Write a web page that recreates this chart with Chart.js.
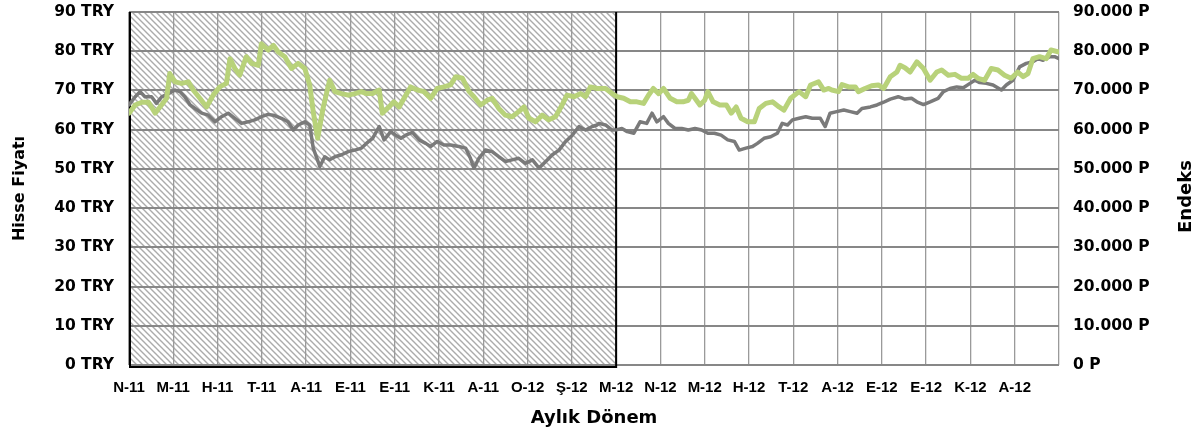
<!DOCTYPE html>
<html>
<head>
<meta charset="utf-8">
<script src="https://cdn.jsdelivr.net/npm/chart.js@4.4.1/dist/chart.umd.min.js"></script>
<style>
  html, body { margin: 0; padding: 0; background: #fff; }
  #kutu { width: 1204px; height: 437px; }
</style>
</head>
<body>
<div id="kutu"><canvas id="grafik"></canvas></div>
<script>
/* aylık etiketler (0..20), 21 = son çizgi */
var aylar = ['N-11', 'M-11', 'H-11', 'T-11', 'A-11', 'E-11', 'E-11', 'K-11', 'A-11', 'O-12', 'Ş-12',
             'M-12', 'N-12', 'M-12', 'H-12', 'T-12', 'A-12', 'E-12', 'E-12', 'K-12', 'A-12'];
var tarali = [0, 11]; // taralı dönem (ay aralığı)

/* Hisse fiyatı (TRY) - ay konumu ve değer */
var hisseX = [0, 0.14, 0.25, 0.36, 0.51, 0.62, 0.74, 0.89, 1.04, 1.15, 1.26, 1.38, 1.49, 1.64, 1.79, 1.94,
  2.09, 2.24, 2.39, 2.54, 2.69, 2.84, 2.99, 3.14, 3.29, 3.44, 3.59, 3.71, 3.82, 3.97, 4.08, 4.16, 4.31,
  4.42, 4.53, 4.65, 4.80, 4.95, 5.10, 5.25, 5.36,
  5.50, 5.65, 5.76, 5.91, 6.02, 6.14, 6.25, 6.40, 6.55, 6.70, 6.81, 6.96, 7.11, 7.26, 7.45, 7.60, 7.71,
  7.79, 7.90, 8.05, 8.20, 8.35, 8.50, 8.65, 8.80, 8.95, 9.11, 9.26, 9.41, 9.56, 9.71, 9.86, 10.01, 10.16,
  10.31, 10.46, 10.57,
  10.61, 10.76, 10.91, 11.02, 11.13, 11.25, 11.40, 11.54, 11.69, 11.81, 11.92, 12.07, 12.18, 12.33, 12.48,
  12.63, 12.78, 12.93, 13.07, 13.22, 13.37, 13.52, 13.67, 13.78, 13.93, 14.08, 14.19, 14.34, 14.49, 14.64,
  14.75, 14.87, 14.98, 15.13, 15.28, 15.43, 15.61, 15.72,
  15.83, 15.98, 16.14, 16.29, 16.44, 16.55, 16.74, 16.89, 17.04, 17.19, 17.37, 17.52, 17.67, 17.79, 17.94,
  18.09, 18.27, 18.39, 18.54, 18.69, 18.84, 18.99, 19.10, 19.21, 19.36, 19.51, 19.70, 19.81, 19.96, 20.11,
  20.26, 20.41, 20.52, 20.64, 20.79, 20.90, 21];
var hisseY = [66.3, 68.4, 69.7, 68.4, 68.4, 66.7, 68.4, 69.2, 70.1, 69.7, 68.4, 66.3, 65.4, 64.2, 63.7, 62.0,
  63.3, 64.2, 62.9, 61.6, 62.0, 62.5, 63.3, 63.9, 63.6, 62.9, 62.0, 59.9, 61.2, 62.0, 61.2, 55.3, 50.6,
  53.1, 52.3, 53.1, 53.6, 54.4, 54.8, 55.3, 56.5,
  57.8, 60.8, 57.4, 59.5, 58.6, 57.8, 58.6, 59.3, 57.4, 56.5, 55.7, 57.0, 56.1, 56.1, 55.7, 55.3, 52.7,
  50.2, 52.7, 54.8, 54.4, 53.1, 51.9, 52.3, 52.7, 51.4, 52.3, 50.2, 51.9, 53.6, 54.8, 57.0, 58.6, 60.8,
  59.9, 60.8, 61.2,
  61.6, 61.2, 59.9, 60.0, 60.3, 59.5, 59.1, 62.0, 61.6, 64.2, 62.0, 63.3, 61.6, 60.3, 60.3,
  59.9, 60.3, 59.9, 59.1, 59.1, 58.6, 57.4, 57.0, 54.8, 55.3, 55.7, 56.5, 57.8, 58.2, 59.1,
  61.6, 61.2, 62.5, 62.9, 63.3, 62.9, 62.9, 60.8,
  64.2, 64.6, 65.0, 64.6, 64.2, 65.4, 65.8, 66.3, 67.0, 67.8, 68.4, 67.8, 68.0, 67.1, 66.4,
  67.1, 68.0, 69.7, 70.5, 70.9, 70.7, 71.8, 72.6, 72.0, 71.8, 71.4, 70.1, 71.4, 72.6, 76.0,
  76.9, 77.3, 78.1, 77.7, 78.6, 78.6, 78.1];

/* Endeks (P) - ay konumu ve değer */
var endeksX = [0, 0.14, 0.29, 0.44, 0.59, 0.70, 0.85, 0.92, 1.04, 1.19, 1.34, 1.45, 1.60, 1.75, 1.90, 2.05,
  2.20, 2.28, 2.39, 2.50, 2.65, 2.77, 2.92, 2.99, 3.14, 3.26, 3.37, 3.52, 3.67, 3.82, 3.97, 4.08, 4.16,
  4.26, 4.38, 4.53, 4.65, 4.80, 4.95, 5.10, 5.25, 5.36,
  5.50, 5.65, 5.72, 5.87, 5.98, 6.10, 6.25, 6.36, 6.51, 6.66, 6.81, 6.96, 7.11, 7.26, 7.38, 7.53, 7.68,
  7.79, 7.94, 8.09, 8.20, 8.35, 8.50, 8.65, 8.80, 8.92, 9.03, 9.18, 9.33, 9.48, 9.63, 9.78, 9.89, 10.05,
  10.20, 10.31, 10.42, 10.57,
  10.61, 10.76, 10.91, 11.02, 11.17, 11.32, 11.47, 11.62, 11.73, 11.84, 11.96, 12.07, 12.22, 12.37, 12.51,
  12.63, 12.70, 12.78, 12.89, 13.00, 13.07, 13.19, 13.34, 13.49, 13.60, 13.71, 13.82, 13.97, 14.12, 14.23,
  14.38, 14.53, 14.68, 14.79, 14.94, 15.13, 15.28, 15.39, 15.57, 15.69, 15.80,
  15.87, 16.02, 16.10, 16.25, 16.40, 16.47, 16.62, 16.77, 16.92, 17.04, 17.19, 17.34, 17.41, 17.52, 17.64,
  17.79, 17.94, 18.09, 18.24, 18.35, 18.50, 18.65, 18.80, 18.95, 19.06, 19.17, 19.32, 19.47, 19.62, 19.77,
  19.92, 20.07, 20.19, 20.30, 20.41, 20.56, 20.71, 20.82, 21];
var endeksY = [64200, 66300, 67000, 67000, 64200, 65800, 68000, 74300, 72200, 71800, 72200, 70100, 68000,
  65800, 68800, 70900, 71800, 78100, 75600, 73900, 78600, 76900, 76400, 81900, 80300, 81500, 79800, 78600,
  75600, 76900, 75600, 71400, 64600, 57800, 65400, 72600, 69700, 69200, 68800, 69200, 69700, 69200,
  69200, 70100, 64200, 65800, 67100, 65800, 68800, 70900, 70100, 69700, 68000, 70500, 70900, 71400, 73500,
  73100, 69700, 68400, 66300, 67500, 68000, 65400, 63700, 63300, 64600, 65800, 62900, 62000, 63700, 62500,
  63300, 66300, 68800, 68400, 69200, 68400, 70900, 70500,
  70500, 70500, 69200, 68400, 68000, 67100, 67100, 66700, 68800, 70500, 69200, 70500, 68000, 67100, 67100,
  67500, 69200, 68000, 66300, 67500, 69700, 67100, 66300, 66300, 64200, 65800, 62900, 62000, 62000, 65400,
  66700, 67100, 65800, 65000, 68000, 69700, 68400, 71400, 72200, 70100, 70500,
  70100, 69700, 71500, 70900, 70900, 69700, 70500, 71200, 71400, 70500, 73500, 74700, 76400, 75800, 74700,
  77300, 75600, 72600, 74700, 75200, 73900, 74100, 73100, 73100, 74100, 73100, 72600, 75600, 75200, 73900,
  73100, 74700, 73500, 74300, 78100, 78600, 78100, 80300, 79800];

var yaziTipi = "'DejaVu Sans', Verdana, sans-serif";

function noktalar(xs, ys) {
  return xs.map(function (x, i) { return { x: x, y: ys[i] }; });
}

function binlik(v) {
  return String(v).replace(/\B(?=(\d{3})+(?!\d))/g, '.');
}

/* taralı desen */
function taramaDeseni() {
  var c = document.createElement('canvas');
  c.width = 6; c.height = 6;
  var g = c.getContext('2d');
  g.fillStyle = '#fff';
  g.fillRect(0, 0, 6, 6);
  g.strokeStyle = '#ababab';
  g.lineWidth = 1.4;
  g.beginPath();
  g.moveTo(-1, -1); g.lineTo(7, 7);
  g.moveTo(-1, 5); g.lineTo(1, 7);
  g.moveTo(5, -1); g.lineTo(7, 1);
  g.stroke();
  return g.createPattern(c, 'repeat');
}

/* dikey eksenin üst/alt boşluğunu sıfırla, genişliği sabitle */
function eksenGenislik(w) {
  return function (s) {
    s.width = w;
    s.paddingTop = 0;
    s.paddingBottom = 0;
  };
}

var arkaPlan = {
  id: 'arkaPlan',
  beforeDraw: function (chart) {
    var ctx = chart.ctx, a = chart.chartArea, xs = chart.scales.x;
    ctx.save();
    ctx.fillStyle = '#fff';
    ctx.fillRect(0, 0, chart.width, chart.height);
    var x0 = xs.getPixelForValue(tarali[0]), x1 = xs.getPixelForValue(tarali[1]);
    ctx.fillStyle = taramaDeseni();
    ctx.fillRect(x0, a.top, x1 - x0, a.bottom - a.top);
    ctx.restore();
  },
  beforeDatasetsDraw: function (chart) {
    var ctx = chart.ctx, a = chart.chartArea, xs = chart.scales.x;
    var x0 = xs.getPixelForValue(tarali[0]), x1 = xs.getPixelForValue(tarali[1]);
    ctx.save();
    ctx.strokeStyle = '#000';
    ctx.lineWidth = 2;
    ctx.beginPath();
    ctx.moveTo(x0 + 1, a.top);
    ctx.lineTo(x0 + 1, a.bottom + 2);
    ctx.lineTo(x1, a.bottom + 2);
    ctx.lineTo(x1, a.top);
    ctx.stroke();
    ctx.restore();
  },
  afterDraw: function (chart) {
    // sağ eksen başlığı (aşağıdan yukarıya)
    var ctx = chart.ctx, a = chart.chartArea, s = chart.scales.y2;
    ctx.save();
    ctx.translate(s.right - 18, (a.top + a.bottom) / 2 + 8);
    ctx.rotate(-Math.PI / 2);
    ctx.font = 'bold 18px ' + yaziTipi;
    ctx.fillStyle = '#000';
    ctx.textAlign = 'center';
    ctx.textBaseline = 'middle';
    ctx.fillText('Endeks', 0, 0);
    ctx.restore();
  }
};

var grafik = new Chart(document.getElementById('grafik'), {
  type: 'line',
  data: {
    datasets: [{
      label: 'Endeks',
      data: noktalar(endeksX, endeksY),
      yAxisID: 'y2',
      borderColor: '#b8d27a',
      borderWidth: 5,
      pointRadius: 0,
      tension: 0,
      borderJoinStyle: 'round',
      borderCapStyle: 'round'
    }, {
      label: 'Hisse Fiyatı',
      data: noktalar(hisseX, hisseY),
      yAxisID: 'y',
      borderColor: '#7a7a7a',
      borderWidth: 3.5,
      pointRadius: 0,
      tension: 0,
      borderJoinStyle: 'round',
      borderCapStyle: 'round'
    }]
  },
  options: {
    responsive: true,
    maintainAspectRatio: false,
    animation: false,
    layout: { padding: { top: 12, left: 0, right: 0, bottom: 0 } },
    plugins: { legend: { display: false }, tooltip: { enabled: false } },
    scales: {
      x: {
        type: 'linear',
        min: 0,
        max: 21,
        afterBuildTicks: function (s) {
          s.ticks = [];
          for (var i = 0; i <= 21; i++) s.ticks.push({ value: i });
        },
        afterFit: function (s) { s.height = 72; },
        ticks: {
          autoSkip: false,
          maxRotation: 0,
          padding: 14,
          color: '#000',
          font: { family: "'Liberation Sans', Arial, sans-serif", size: 15, weight: 'bold' },
          callback: function (v) { return aylar[v] || ''; }
        },
        grid: { color: '#9a9a9a', lineWidth: 1.3, drawTicks: false },
        border: { display: false },
        title: {
          display: true,
          text: 'Aylık Dönem',
          color: '#000',
          padding: { top: 0, bottom: 8 },
          font: { family: yaziTipi, size: 18, weight: 'bold' }
        }
      },
      y: {
        position: 'left',
        min: 0,
        max: 90,
        afterFit: eksenGenislik(129),
        ticks: {
          stepSize: 10,
          padding: 15,
          color: '#000',
          font: { family: yaziTipi, size: 15.5, weight: 'bold' },
          callback: function (v) { return v + ' TRY'; }
        },
        grid: { color: '#878787', lineWidth: 2, drawTicks: false },
        border: { display: false },
        title: {
          display: true,
          text: 'Hisse Fiyatı',
          color: '#000',
          padding: { top: 10, bottom: 0 },
          font: { family: yaziTipi, size: 16, weight: 'bold' }
        }
      },
      y2: {
        position: 'right',
        min: 0,
        max: 90000,
        afterFit: eksenGenislik(145),
        ticks: {
          stepSize: 10000,
          padding: 14,
          color: '#000',
          font: { family: yaziTipi, size: 15.5, weight: 'bold' },
          callback: function (v) { return binlik(v) + ' P'; }
        },
        grid: { drawOnChartArea: false, drawTicks: false },
        border: { display: false }
      }
    }
  },
  plugins: [arkaPlan]
});
</script>
</body>
</html>
